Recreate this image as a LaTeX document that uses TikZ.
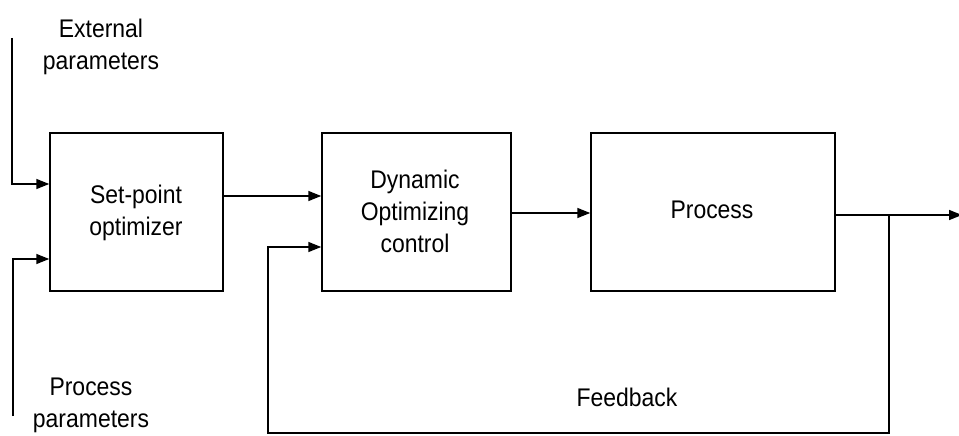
\documentclass[tikz,border=0pt]{standalone}
\usepackage{fontspec}
\setmainfont{Liberation Sans}[FakeStretch=0.9]
\usetikzlibrary{arrows.meta}
\begin{document}
\begin{tikzpicture}[x=1pt,y=-1pt,
  line width=1.5pt,
  block/.style={draw, minimum height=158pt, inner sep=0pt},
  lbl/.style={font=\fontsize{25.5}{32}\selectfont, align=center, inner sep=0pt},
  arr/.style={-{Triangle[length=13pt,width=10pt]}}]
  \useasboundingbox (0,0) rectangle (959,436);

  % blocks
  \node[block, minimum width=173pt] (sp) at (136.5,212) {};
  \node[block, minimum width=189pt] (dyn) at (416.5,212) {};
  \node[block, minimum width=244pt] (proc) at (713,212) {};

  % block texts
  \node[lbl] (sptxt) at (136,213) {Set-point\\optimizer};
  \node[lbl] (dyntxt) at (415,211) {Dynamic\\Optimizing\\control};
  \node[lbl] (proctxt) at (712,210) {Process};

  % free labels
  \node[lbl] (ext) at (101,47) {External\\parameters};
  \node[lbl] (pp) at (91,405) {Process\\parameters};
  \node[lbl] (fb) at (627,397) {Feedback};

  % line ends
  \coordinate (extTop) at (12,38);
  \coordinate (ppBot) at (13,416);
  \coordinate (out) at (962,215);
  \coordinate (branch) at (889,215);
  \coordinate (fbRight) at (889,433);
  \coordinate (fbLeft) at (268,433);

  % inputs to the set-point optimizer
  \draw[arr] (extTop) |- ([yshift=28pt]sp.west);
  \draw[arr] (ppBot) |- ([yshift=-47pt]sp.west);

  % forward path
  \draw[arr] ([yshift=16pt]sp.east) -- ([yshift=16pt]dyn.west);
  \draw[arr] ([yshift=-1pt]dyn.east) -- ([yshift=-1pt]proc.west);
  \draw[arr] (proc.east |- out) -- (out);

  % feedback loop
  \draw[arr] (branch) -- (fbRight) -- (fbLeft) |- ([yshift=-35pt]dyn.west);
\end{tikzpicture}
\end{document}
